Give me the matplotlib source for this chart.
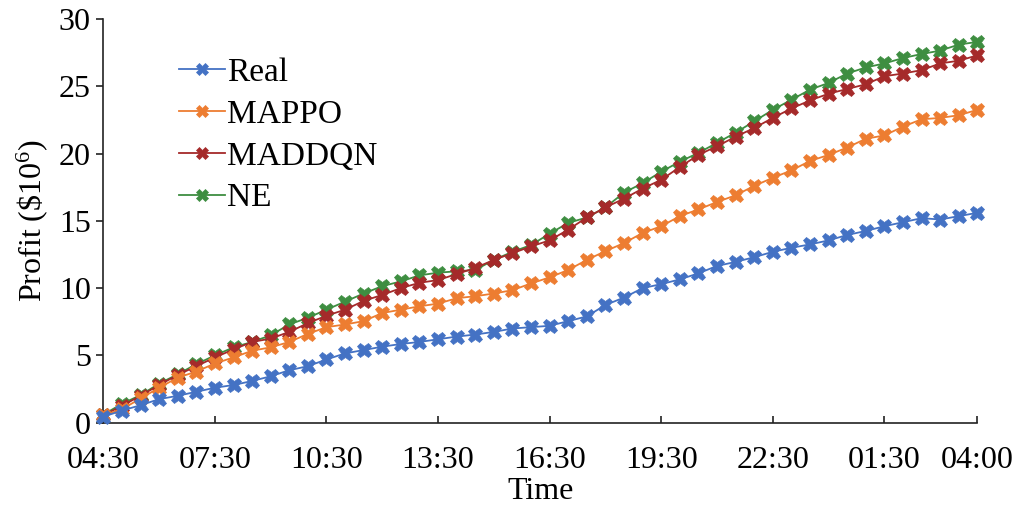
import matplotlib
matplotlib.use("Agg")
import matplotlib.pyplot as plt
import numpy as np

tick_labels = ["04:30", "07:30", "10:30", "13:30", "16:30", "19:30", "22:30", "01:30", "04:00"]
tick_index = [0, 6, 12, 18, 24, 30, 36, 42, 47]

real = [0.45, 0.9, 1.3, 1.75, 2.0, 2.3, 2.6, 2.8, 3.1, 3.45, 3.9, 4.2, 4.7, 5.15, 5.4, 5.65,
        5.85, 6.0, 6.2, 6.4, 6.55, 6.75, 7.0, 7.1, 7.2, 7.55, 7.9, 8.75, 9.3, 10.0, 10.3, 10.65,
        11.1, 11.65, 11.95, 12.3, 12.7, 13.0, 13.25, 13.55, 13.95, 14.25, 14.6, 14.9, 15.2, 15.1,
        15.35, 15.6]
mappo = [0.55, 1.0, 1.8, 2.6, 3.35, 3.8, 4.4, 4.85, 5.35, 5.6, 6.0, 6.6, 7.1, 7.3, 7.55, 8.15,
         8.4, 8.65, 8.85, 9.25, 9.4, 9.6, 9.85, 10.35, 10.8, 11.35, 12.1, 12.75, 13.35, 14.1, 14.6,
         15.35, 15.85, 16.4, 16.9, 17.6, 18.2, 18.75, 19.45, 19.9, 20.45, 21.1, 21.35, 22.0, 22.55,
         22.65, 22.85, 23.25]
maddqn = [0.55, 1.25, 2.0, 2.8, 3.55, 4.2, 4.85, 5.45, 6.0, 6.25, 6.75, 7.4, 7.95, 8.4, 9.05,
          9.5, 10.0, 10.4, 10.6, 11.05, 11.5, 12.1, 12.6, 13.1, 13.55, 14.35, 15.25, 16.0, 16.65,
          17.4, 18.05, 19.0, 19.9, 20.55, 21.25, 21.9, 22.65, 23.35, 23.95, 24.45, 24.8, 25.15,
          25.75, 25.95, 26.2, 26.7, 26.9, 27.3]
ne = [0.6, 1.4, 2.05, 2.9, 3.6, 4.35, 5.0, 5.6, 6.0, 6.5, 7.3, 7.8, 8.4, 9.0, 9.6, 10.15, 10.5,
      10.95, 11.15, 11.25, 11.35, 12.1, 12.7, 13.2, 14.05, 14.85, 15.25, 16.0, 17.1, 17.8, 18.65,
      19.4, 20.05, 20.8, 21.55, 22.4, 23.25, 24.0, 24.75, 25.25, 25.95, 26.4, 26.7, 27.1, 27.4,
      27.65, 28.1, 28.3]

series = [("Real", real, "#4472C4", 5),
          ("MAPPO", mappo, "#ED7D31", 4),
          ("MADDQN", maddqn, "#A52A2A", 3),
          ("NE", ne, "#3E8E41", 2)]

plt.rcParams["font.family"] = ["Liberation Serif", "DejaVu Serif"]
plt.rcParams["mathtext.fontset"] = "custom"
plt.rcParams["mathtext.rm"] = "Liberation Serif"
plt.rcParams["mathtext.it"] = "Liberation Serif:italic"

fig = plt.figure(figsize=(10.16, 5.11), dpi=100)
ax = fig.add_axes([0.1017, 0.1728, 0.8603, 0.79])

for name, vals, col, z in series:
    x = np.arange(len(vals))
    ax.plot(x, vals, color=col, lw=1.3, marker="X", markersize=10.5,
            markeredgewidth=0.5, markeredgecolor=col, label=name, zorder=z, clip_on=False)

ax.set_xlim(0, 47)
ax.set_ylim(0, 30)
ax.set_yticks(np.arange(0, 31, 5))
ax.set_xticks(tick_index)
ax.set_xticklabels(tick_labels)

for s in ["top", "right"]:
    ax.spines[s].set_visible(False)
for s in ["left", "bottom"]:
    ax.spines[s].set_linewidth(1.2)
    ax.spines[s].set_color("#222222")

ax.tick_params(axis="y", direction="out", length=5, width=1.2, labelsize=23, pad=4, color="#222222")
ax.tick_params(axis="x", direction="in", length=5, width=1.2, labelsize=23, pad=17, color="#222222")

ax.set_xlabel("Time", fontsize=23, labelpad=1)
ax.set_ylabel("Profit (\\$10$^6$)", fontsize=23, labelpad=6)

leg = ax.legend(loc="upper left", bbox_to_anchor=(0.071, 0.938), frameon=False, fontsize=24,
                handlelength=1.4, handletextpad=0.06, labelspacing=0.34, borderaxespad=0,
                markerscale=0.8)

fig.savefig("out.png", dpi=100)
